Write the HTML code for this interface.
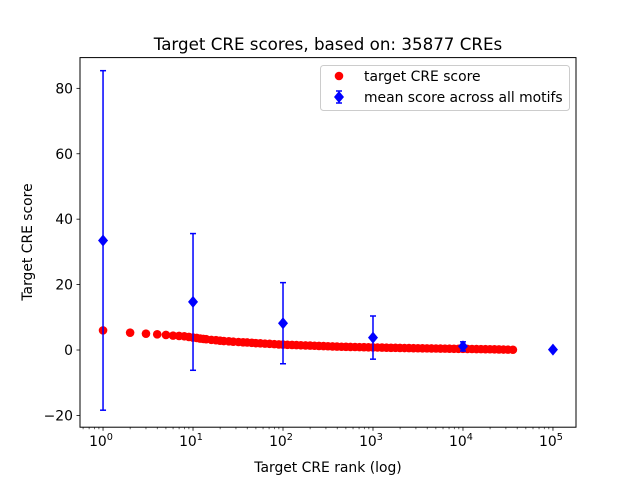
<!DOCTYPE html>
<html><head><meta charset="utf-8"><style>
html,body{margin:0;padding:0;background:#fff;}
svg{display:block;font-family:"DejaVu Sans","Liberation Sans",sans-serif;}
</style></head><body>
<svg id="chart" width="640" height="480" viewBox="0 0 640 480"></svg>
<script>
const redRanks=[1,2,3,4,5,6,7,8,9,10,11,12,13,14,16,18,20,22,25,28,32,36,40,45,50,56,63,71,80,90,100,112,126,141,158,178,200,224,251,282,316,355,398,447,501,562,631,708,794,891,1000,1122,1259,1413,1585,1778,1995,2239,2512,2818,3162,3548,3981,4467,5012,5623,6310,7079,7943,8913,10000,11220,12589,14125,15849,17783,19953,22387,25119,28184,31623,35877];
const redScores=[6.0,5.3,5.0,4.8,4.6,4.4,4.3,4.2,4.0,3.8,3.7,3.5,3.4,3.3,3.1,3.0,2.85,2.75,2.65,2.55,2.45,2.35,2.3,2.2,2.1,2.05,1.95,1.9,1.8,1.7,1.65,1.6,1.55,1.5,1.45,1.4,1.35,1.3,1.25,1.2,1.15,1.1,1.05,1.0,0.98,0.95,0.92,0.88,0.85,0.82,0.8,0.77,0.74,0.71,0.68,0.66,0.63,0.61,0.58,0.56,0.54,0.52,0.5,0.48,0.46,0.44,0.42,0.4,0.38,0.36,0.35,0.33,0.31,0.29,0.27,0.25,0.23,0.21,0.18,0.15,0.12,0.08];
const meanRanks=[1,10,100,1000,10000,100000];
const meanScores=[33.5,14.7,8.2,3.8,1.1,0.1];
const meanErr=[51.9,20.9,12.4,6.6,1.4,0];
const yTicks=[-20,0,20,40,60,80];
const xTickExp=[0,1,2,3,4,5];

const svg=document.getElementById('chart');
const NS='http://www.w3.org/2000/svg';
const L=80,R=576,T=57.6,B=427.2;
const xMinLog=-0.256,xMaxLog=5.256,yMin=-23.6,yMax=89.4;
function xs(v){return L+(Math.log10(v)-xMinLog)/(xMaxLog-xMinLog)*(R-L);}
function ys(v){return B-(v-yMin)/(yMax-yMin)*(B-T);}
function mk(tag,attrs,parent){const e=document.createElementNS(NS,tag);for(const k in attrs)e.setAttribute(k,attrs[k]);(parent||svg).appendChild(e);return e;}

const frame=mk('rect',{x:L,y:T,width:R-L,height:B-T,fill:'none',stroke:'#000','stroke-width':1});



yTicks.forEach(t=>{
  const y=ys(t);
  const tk=mk('line',{x1:L-3.5,x2:L,y1:y,y2:y,stroke:'#000','stroke-width':0.8});
  
  
  const tx=mk('text',{x:L-7,y:y+5,'text-anchor':'end','font-size':13.9});
  tx.textContent=(t<0?'\u2212':'')+Math.abs(t);
  
  
});
xTickExp.forEach(e=>{
  const x=xs(Math.pow(10,e));
  const tk=mk('line',{x1:x,x2:x,y1:B,y2:B+3.5,stroke:'#000','stroke-width':0.8});
  
  
  const tx=mk('text',{x:x-2,y:B+19,'text-anchor':'middle','font-size':13.9});
  tx.textContent='10';
  const sup=mk('tspan',{dy:-6,'font-size':9.7},tx);
  sup.textContent=String(e);
  
  
});
for(let e=-1;e<=5;e++){for(let m=2;m<=9;m++){const v=m*Math.pow(10,e);const lv=Math.log10(v);if(lv<xMinLog||lv>xMaxLog)continue;const x=xs(v);
  const tk=mk('line',{x1:x,x2:x,y1:B,y2:B+2,stroke:'#000','stroke-width':0.6});
  
  }}

redRanks.forEach((r,i)=>{
  const c=mk('circle',{cx:xs(r),cy:ys(redScores[i]),r:4.3,fill:'#ff0000'});
  
  
});
meanRanks.forEach((r,i)=>{
  const x=xs(r),y=ys(meanScores[i]),y1=ys(meanScores[i]+meanErr[i]),y2=ys(meanScores[i]-meanErr[i]);
  const g=mk('g',{});
  
  
  mk('line',{x1:x,x2:x,y1:y1,y2:y2,stroke:'#0000ff','stroke-width':1.5},g);
  mk('line',{x1:x-3,x2:x+3,y1:y1,y2:y1,stroke:'#0000ff','stroke-width':1.5},g);
  mk('line',{x1:x-3,x2:x+3,y1:y2,y2:y2,stroke:'#0000ff','stroke-width':1.5},g);
  mk('polygon',{points:`${x},${y-6} ${x+5},${y} ${x},${y+6} ${x-5},${y}`,fill:'#0000ff'},g);
});
</script>
<script>
(function(){
const svg=document.getElementById('chart');const NS='http://www.w3.org/2000/svg';
function mk(tag,attrs,parent){const e=document.createElementNS(NS,tag);for(const k in attrs)e.setAttribute(k,attrs[k]);(parent||svg).appendChild(e);return e;}
const title=mk('text',{x:328,y:50,'text-anchor':'middle','font-size':16.7});
title.textContent='Target CRE scores, based on: 35877 CREs';


const xl=mk('text',{x:328,y:472,'text-anchor':'middle','font-size':13.9});
xl.textContent='Target CRE rank (log)';


const yl=mk('text',{x:0,y:0,'text-anchor':'middle','font-size':13.9,transform:'translate(32,242) rotate(-90)'});
yl.textContent='Target CRE score';


const lg=mk('g',{});


mk('rect',{x:320.5,y:65.5,width:249,height:45,rx:3,fill:'#fff',stroke:'#ccc','stroke-width':1},lg);
const e1=mk('g',{},lg);


mk('circle',{cx:339,cy:76,r:4.3,fill:'#ff0000'},e1);
const t1=mk('text',{x:364,y:81,'font-size':13.9},e1);t1.textContent='target CRE score';
const e2=mk('g',{},lg);


mk('line',{x1:339,x2:339,y1:91,y2:103,stroke:'#0000ff','stroke-width':1.5},e2);
mk('line',{x1:336,x2:342,y1:91,y2:91,stroke:'#0000ff','stroke-width':1.5},e2);
mk('line',{x1:336,x2:342,y1:103,y2:103,stroke:'#0000ff','stroke-width':1.5},e2);
mk('polygon',{points:'339,91 344,97 339,103 334,97',fill:'#0000ff'},e2);
const t2=mk('text',{x:364,y:102,'font-size':13.9},e2);t2.textContent='mean score across all motifs';
})();
</script>
</body></html>
